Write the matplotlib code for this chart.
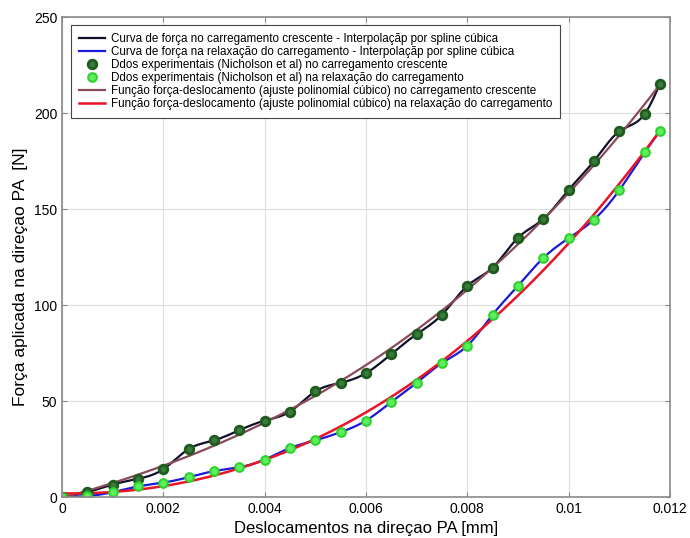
import numpy as np
import matplotlib
matplotlib.use("Agg")
import matplotlib.pyplot as plt

plt.rcParams["font.family"] = ["Liberation Sans", "DejaVu Sans"]

# Displacement samples [mm]
desloc = [0.0, 0.0005, 0.001, 0.0015, 0.002, 0.0025, 0.003, 0.0035, 0.004,
          0.0045, 0.005, 0.0055, 0.006, 0.0065, 0.007, 0.0075, 0.008,
          0.0085, 0.009, 0.0095, 0.01, 0.0105, 0.011, 0.0115, 0.0118]

# Force [N] while loading (Nicholson et al)
forca_carreg = [0.0, 2.5, 6.5, 9.5, 14.5, 25.0, 29.5, 34.8, 39.8,
                44.5, 55.0, 59.5, 64.5, 74.5, 84.8, 95.0, 110.0,
                119.5, 135.0, 144.8, 160.0, 175.0, 190.5, 199.5, 215.0]

# Force [N] while unloading (Nicholson et al)
forca_relax = [0.0, 0.5, 2.5, 5.5, 7.5, 10.3, 13.5, 15.5, 19.5,
               25.5, 29.5, 33.8, 39.8, 49.5, 59.5, 69.8, 78.8,
               95.0, 110.0, 124.5, 134.8, 144.5, 159.8, 179.5, 190.5]

LABELS = [
    "Curva de força no carregamento crescente - Interpolaçãp por spline cúbica",
    "Curva de força na relaxação do carregamento - Interpolaçãp por spline cúbica",
    "Ddos experimentais (Nicholson et al) no carregamento crescente",
    "Ddos experimentais (Nicholson et al) na relaxação do carregamento",
    "Função força-deslocamento (ajuste polinomial cúbico) no carregamento crescente",
    "Função força-deslocamento (ajuste polinomial cúbico) na relaxação do carregamento",
]


def natural_spline(x, y, xs):
    """Evaluate a natural cubic spline through (x, y) at xs."""
    x = np.asarray(x, float)
    y = np.asarray(y, float)
    n = len(x)
    h = np.diff(x)
    A = np.zeros((n, n))
    b = np.zeros(n)
    A[0, 0] = A[-1, -1] = 1.0
    for i in range(1, n - 1):
        A[i, i - 1] = h[i - 1]
        A[i, i] = 2 * (h[i - 1] + h[i])
        A[i, i + 1] = h[i]
        b[i] = 6 * ((y[i + 1] - y[i]) / h[i] - (y[i] - y[i - 1]) / h[i - 1])
    M = np.linalg.solve(A, b)
    idx = np.clip(np.searchsorted(x, xs) - 1, 0, n - 2)
    x0, x1 = x[idx], x[idx + 1]
    hi = x1 - x0
    t0, t1 = x1 - xs, xs - x0
    return (M[idx] * t0**3 / (6 * hi) + M[idx + 1] * t1**3 / (6 * hi)
            + (y[idx] / hi - M[idx] * hi / 6) * t0
            + (y[idx + 1] / hi - M[idx + 1] * hi / 6) * t1)


xs = np.linspace(desloc[0], desloc[-1], 400)
spl_carreg = natural_spline(desloc, forca_carreg, xs)
spl_relax = natural_spline(desloc, forca_relax, xs)
fit_carreg = np.polyval(np.polyfit(desloc, forca_carreg, 3), xs)
fit_relax = np.polyval(np.polyfit(desloc, forca_relax, 3), xs)

fig = plt.figure(figsize=(6.9, 5.38), dpi=100)
ax = fig.add_axes([0.0899, 0.0762, 0.881, 0.892])

h1, = ax.plot(xs, spl_carreg, color="#10102a", lw=1.6)
h2, = ax.plot(xs, spl_relax, color="#1a1ad8", lw=1.6)
h5, = ax.plot(xs, fit_carreg, color="#8a4a58", lw=1.6)
h6, = ax.plot(xs, fit_relax, color="#e8142a", lw=1.8)
h3, = ax.plot(desloc, forca_carreg, "o", ms=6.2, mew=2.0,
              mec="#1f5a1f", mfc="#3a7a3a", ls="none")
h4, = ax.plot(desloc, forca_relax, "o", ms=6.2, mew=1.5,
              mec="#30d030", mfc="#5cf05c", ls="none")

ax.set_xlim(0, 0.012)
ax.set_ylim(0, 250)
ax.set_xticks([0, 0.002, 0.004, 0.006, 0.008, 0.01, 0.012])
ax.set_xticklabels(["0", "0.002", "0.004", "0.006", "0.008", "0.01", "0.012"])
ax.set_yticks([0, 50, 100, 150, 200, 250])
ax.tick_params(direction="in", top=True, right=True, labelsize=10,
               length=3.5, color="#888888")
ax.grid(True, color="#e0e0e0", lw=0.9)
ax.set_axisbelow(True)
for sp in ax.spines.values():
    sp.set_color("#8a8a8a")
    sp.set_linewidth(1.2)

ax.set_xlabel("Deslocamentos na direçao PA [mm]", fontsize=12, labelpad=4)
ax.set_ylabel("Força aplicada na direçao PA  [N]", fontsize=12.5)
ax.yaxis.set_label_coords(-0.056, 0.46)

leg = ax.legend([h1, h2, h3, h4, h5, h6], LABELS, loc="upper left",
                bbox_to_anchor=(0.005, 0.996), fontsize=8.4,
                labelspacing=0.08, handlelength=2.2, handletextpad=0.5,
                borderpad=0.7, fancybox=False, framealpha=1)
leg.get_frame().set_edgecolor("#444444")
leg.get_frame().set_linewidth(0.8)

fig.savefig("out.png", dpi=100)
